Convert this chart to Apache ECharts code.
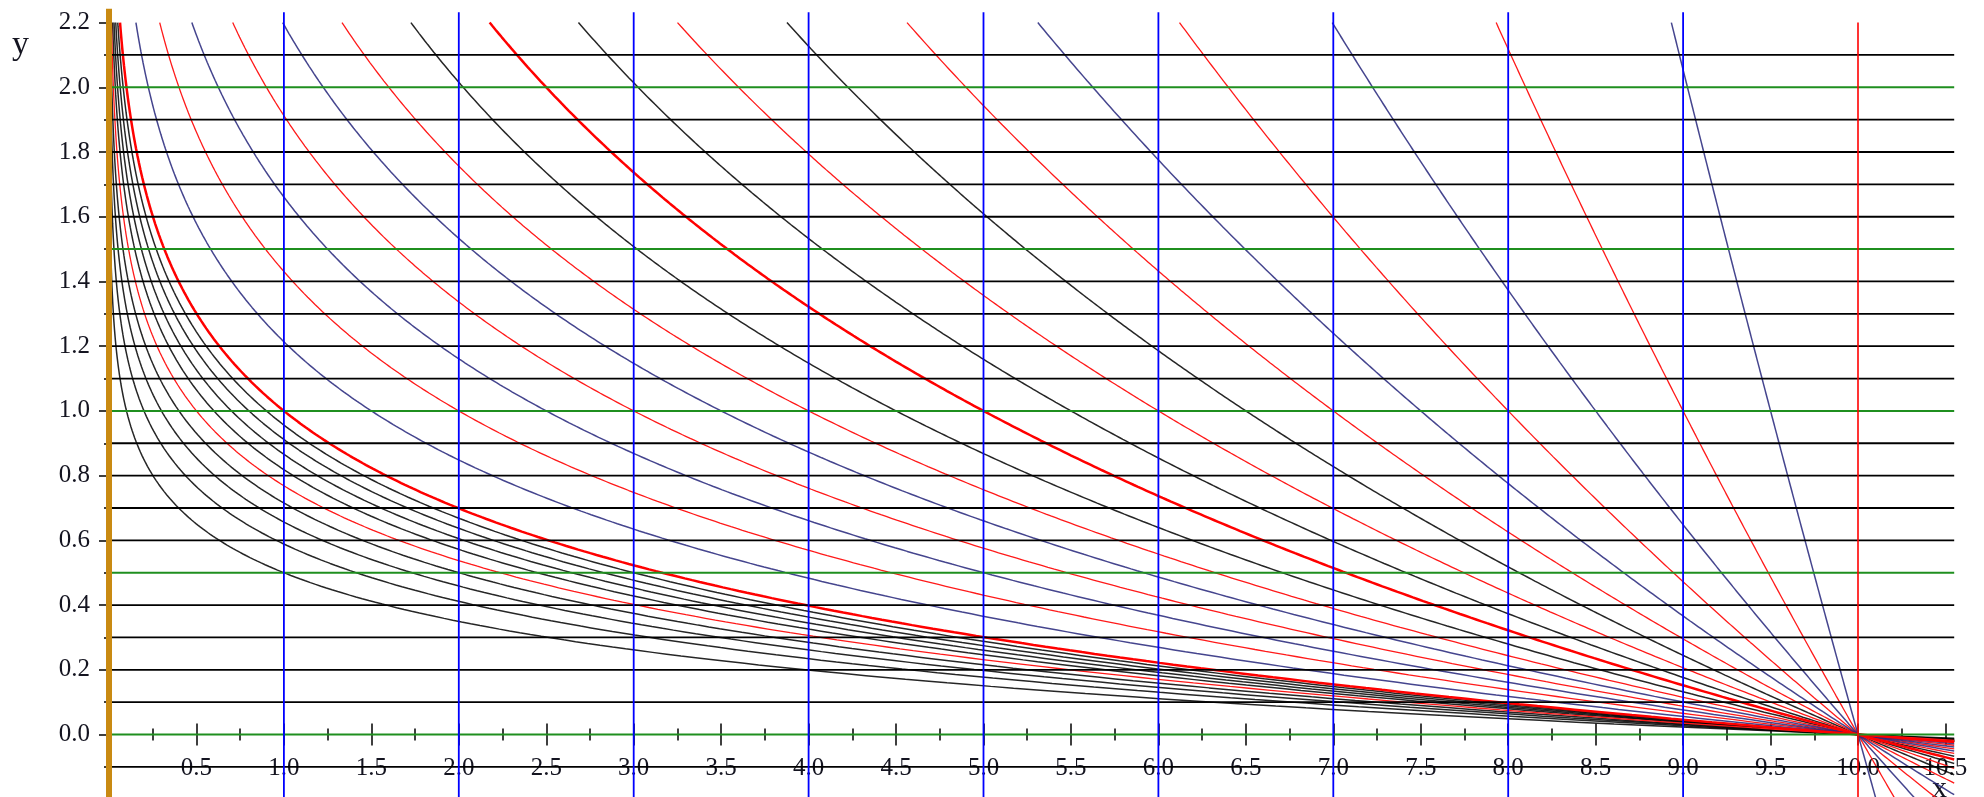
<!DOCTYPE html>
<html lang="en">
<head>
<meta charset="UTF-8">
<title>Curves through (10, 0)</title>
<script src="https://cdn.jsdelivr.net/npm/echarts@6/dist/echarts.min.js"></script>
<style>
  html, body { margin: 0; padding: 0; background: #fff; }
  #chart { width: 1984px; height: 797px; }
</style>
</head>
<body>
<div id="chart"></div>
<script>
// where each curve crosses y = 1; every curve also passes through (10, 0)
var blackCross = [0.1, 0.2, 0.3, 0.4, 0.6, 0.7, 0.8, 0.9, 4.5, 5.5, 6.5];
var redCross = [0.5, 2, 3, 4, 6, 7, 8, 9];
var boldRedCross = [1, 5];
var blueCross = [1.5, 2.5, 3.5, 7.5, 8.5, 9.5];

// horizontal and vertical guide lines
var blackLevels = [-0.1, 0.1, 0.2, 0.3, 0.4, 0.6, 0.7, 0.8, 0.9, 1.1, 1.2, 1.3, 1.4, 1.6, 1.7, 1.8, 1.9, 2.1];
var greenLevels = [0, 0.5, 1.0, 1.5, 2.0];
var blueVerticals = [1, 2, 3, 4, 5, 6, 7, 8, 9];
var redVerticals = [10];

var xEnd = 10.55;   // where the plotted lines stop on the right
var yTop = 2.2;     // curves are cut at the top of the view

// pixel scale of the view
var px0 = 109, pxPerX = 174.9;
var py0 = 734.5, pxPerY = 323.6;
var yMin = -0.2, yMax = 2.4;

var chart = echarts.init(document.getElementById('chart'));

// y = ln(10/x) / ln(10/c): the curve through (c, 1) and (10, 0)
function curve(c) {
    var k = Math.log(10 / c);
    var yLow = Math.max(Math.log(10 / xEnd) / k, -0.3);
    var pts = [];
    var n = 400;
    for (var i = 0; i <= n; i++) {
        var y = yTop - (yTop - yLow) * i / n;
        pts.push([10 * Math.exp(-k * y), y]);
    }
    return pts;
}

function line(points, color, width, z, opacity) {
    return {
        type: 'line',
        data: points,
        symbol: 'none',
        silent: true,
        z: z,
        lineStyle: { color: color, width: width, opacity: opacity === undefined ? 1 : opacity }
    };
}

var series = [];
blackCross.forEach(function (c) { series.push(line(curve(c), '#000', 1.5, 2, 0.85)); });
redCross.forEach(function (c) { series.push(line(curve(c), '#ff1a1a', 1.3, 2)); });
blueCross.forEach(function (c) { series.push(line(curve(c), '#25257a', 1.5, 2, 0.85)); });
boldRedCross.forEach(function (c) { series.push(line(curve(c), '#ff0000', 2.5, 3)); });

blackLevels.forEach(function (v) { series.push(line([[0, v], [xEnd, v]], '#000', 1.8, 4)); });
greenLevels.forEach(function (v) { series.push(line([[0, v], [xEnd, v]], '#1f8f1f', 2, 4)); });
blueVerticals.forEach(function (v) { series.push(line([[v, -0.3], [v, 2.232]], '#0000ff', 1.8, 5)); });
redVerticals.forEach(function (v) { series.push(line([[v, -0.3], [v, 2.2]], '#ff0000', 1.6, 5)); });
// the orange line along x = 0
series.push(line([[0, -0.3], [0, 2.243]], '#c98a12', 6, 6));

var labelFont = { fontFamily: 'Liberation Serif', fontSize: 25, color: '#141420' };

// two x axes sit on y = 0 so the ticks cross it, one pointing down, one up
var xOffset = yMin * pxPerY;   // move from the grid bottom up to y = 0
function xAxisDef(inside, labels) {
    return {
        type: 'value',
        min: 0,
        max: 11,
        interval: 0.5,
        position: 'bottom',
        offset: xOffset,
        axisLine: { show: false, onZero: false },
        axisTick: { show: true, inside: inside, length: 11, lineStyle: { color: '#000', width: 1.5 } },
        minorTick: { show: true, splitNumber: 2, length: 6, lineStyle: { color: '#000', width: 1.5 } },
        splitLine: { show: false },
        axisLabel: {
            show: labels,
            margin: 21,
            fontFamily: labelFont.fontFamily,
            fontSize: labelFont.fontSize,
            color: labelFont.color,
            formatter: function (v) { return (v < 0.4 || v > 10.6) ? '' : v.toFixed(1); }
        }
    };
}

var option = {
    animation: false,
    backgroundColor: '#fff',
    grid: {
        left: px0, top: py0 - yMax * pxPerY, width: 11 * pxPerX, height: (yMax - yMin) * pxPerY,
        containLabel: false, outerBoundsMode: 'none'
    },
    xAxis: [xAxisDef(false, true), xAxisDef(true, false)],
    yAxis: {
        type: 'value',
        min: yMin,
        max: yMax,
        interval: 0.2,
        axisLine: { show: false, onZero: false },
        axisTick: { show: true, length: 10, lineStyle: { color: '#000', width: 1.5 } },
        minorTick: { show: true, splitNumber: 2, length: 5, lineStyle: { color: '#000', width: 1.5 } },
        splitLine: { show: false },
        axisLabel: {
            margin: 19,
            fontFamily: labelFont.fontFamily,
            fontSize: labelFont.fontSize,
            color: labelFont.color,
            formatter: function (v) { return (v < -0.01 || v > 2.21) ? '' : v.toFixed(1); }
        }
    },
    graphic: [
        { type: 'text', left: 12, top: 28, style: { text: 'y', font: '34px "Liberation Serif"', fill: '#141420' } },
        { type: 'text', left: 1932, top: 774, style: { text: 'x', font: '30px "Liberation Serif"', fill: '#141420' } }
    ],
    series: series
};

chart.setOption(option);
</script>
</body>
</html>
